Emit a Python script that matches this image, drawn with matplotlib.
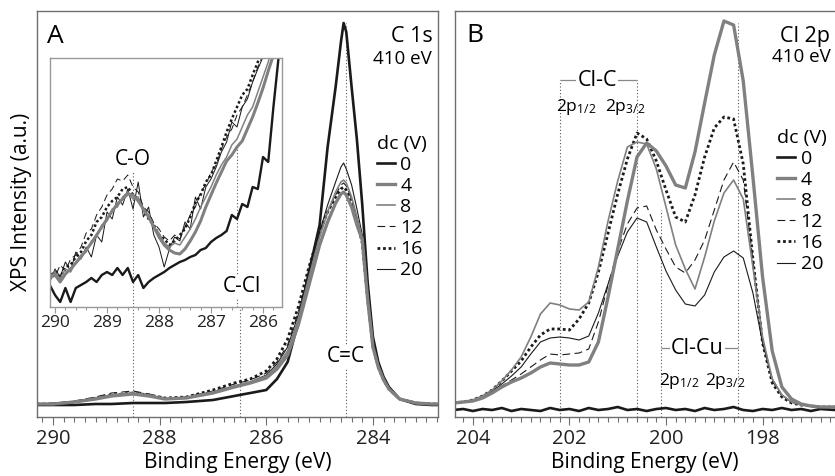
import matplotlib
matplotlib.use("Agg")
import matplotlib.pyplot as plt
from matplotlib.ticker import MultipleLocator

plt.rcParams['font.family'] = ['Open Sans', 'DejaVu Sans']
plt.rcParams['mathtext.fontset'] = 'custom'
plt.rcParams['mathtext.rm'] = 'Open Sans'
plt.rcParams['mathtext.it'] = 'Open Sans:italic'

# ---------------- data ----------------
voltages = ['0', '4', '8', '12', '16', '20']

# Panel A : C 1s main spectra (binding energy, intensity a.u.)
EA = [290.3, 290.0, 289.6, 289.2, 288.9, 288.5, 288.2, 287.9, 287.5, 287.0,
      286.6, 286.3, 286.0, 285.8, 285.6, 285.4, 285.2, 285.0, 284.85, 284.7,
      284.6, 284.55, 284.5, 284.4, 284.3, 284.2, 284.1, 284.0, 283.9, 283.8,
      283.7, 283.5, 283.2, 282.9, 282.7]
A_0 = [12, 12, 12, 13, 13, 14, 14, 14, 15, 17, 21, 24, 27, 38, 55, 95, 145, 192, 270, 330,
       375, 394, 385, 330, 277, 212, 135, 80, 55, 40, 30, 18, 13, 12, 12]
A_4 = [13, 13, 15, 18, 21, 23, 21, 18, 19, 24, 30, 34, 39, 48, 62, 92, 132, 172, 195, 214,
       223, 225, 222, 210, 192, 177, 118, 70, 50, 37, 28, 18, 14, 13, 13]
A_8 = [13, 13, 15, 19, 22, 24, 22, 18, 19, 25, 31, 35, 41, 51, 66, 98, 140, 180, 205, 225,
       235, 237, 234, 220, 200, 178, 120, 70, 50, 37, 28, 18, 14, 13, 13]
A_12 = [13, 14, 16, 20, 24, 26, 23, 19, 20, 26, 33, 37, 44, 55, 72, 105, 146, 183, 205, 222,
        232, 234, 231, 218, 198, 176, 118, 70, 50, 37, 28, 18, 14, 13, 13]
A_16 = [13, 13, 15, 19, 22, 24, 22, 19, 20, 27, 34, 38, 46, 58, 78, 110, 150, 185, 205, 220,
        228, 230, 227, 215, 196, 174, 118, 70, 50, 37, 28, 18, 14, 13, 13]
A_20 = [13, 13, 15, 19, 22, 24, 21, 18, 19, 25, 31, 35, 42, 53, 70, 102, 145, 185, 212, 235,
        250, 254, 248, 232, 208, 182, 124, 72, 51, 37, 28, 18, 14, 13, 13]

# Panel A inset : magnified 290.1 - 285.6 eV
EI = [290.1, 290.0, 289.9, 289.8, 289.7, 289.6, 289.5, 289.4, 289.3, 289.2,
      289.1, 289.0, 288.9, 288.8, 288.7, 288.6, 288.5, 288.4, 288.3, 288.2,
      288.1, 288.0, 287.9, 287.8, 287.7, 287.6, 287.5, 287.4, 287.3, 287.2,
      287.1, 287.0, 286.9, 286.8, 286.7, 286.6, 286.5, 286.4, 286.3, 286.2,
      286.1, 286.0, 285.9, 285.8, 285.7, 285.6]
I_0 = [22, 12, 5, 19, 5, 19, 22, 25, 29, 25, 32, 35, 32, 39, 32, 39, 25, 32, 19, 25,
       29, 32, 35, 39, 42, 45, 47, 50, 52, 57, 59, 65, 69, 72, 76, 92, 88, 103, 100, 120,
       118, 150, 145, 200, 250, 290]
I_4 = [29, 32, 25, 33, 38, 44, 50, 57, 64, 72, 80, 88, 96, 103, 108, 113, 112, 106, 98, 90,
       80, 70, 62, 57, 54, 53, 58, 66, 75, 86, 100, 112, 124, 135, 146, 152, 160, 166, 178, 190,
       204, 219, 236, 252, 270, 290]
I_8 = [30, 35, 28, 38, 35, 45, 52, 55, 66, 70, 82, 86, 98, 100, 110, 115, 108, 110, 96, 92,
       80, 74, 64, 60, 64, 62, 70, 78, 88, 100, 110, 120, 132, 142, 150, 162, 168, 180, 192, 200,
       215, 230, 245, 262, 280, 300]
I_12 = [35, 30, 42, 36, 48, 52, 60, 74, 78, 92, 100, 112, 118, 128, 126, 132, 120, 115, 100, 95,
        84, 78, 70, 66, 72, 68, 80, 92, 100, 115, 122, 135, 142, 158, 170, 178, 192, 200, 212, 225,
        240, 252, 268, 285, 300, 310]
I_16 = [28, 36, 30, 40, 42, 50, 55, 66, 72, 85, 90, 100, 106, 110, 118, 120, 112, 108, 98, 88,
        82, 72, 68, 62, 66, 72, 78, 90, 104, 112, 125, 132, 146, 160, 175, 188, 200, 212, 218, 232,
        245, 255, 268, 285, 300, 310]
I_20 = [25, 38, 30, 45, 36, 55, 48, 60, 50, 72, 65, 95, 88, 110, 102, 118, 98, 125, 90, 100,
        72, 60, 40, 58, 70, 66, 85, 78, 110, 98, 120, 128, 140, 155, 165, 185, 180, 200, 208, 225,
        238, 250, 262, 280, 295, 310]

# Panel B : Cl 2p spectra
EB = [204.4, 204.2, 204.0, 203.8, 203.6, 203.4, 203.2, 203.0, 202.8, 202.6,
      202.4, 202.2, 202.0, 201.8, 201.6, 201.4, 201.2, 201.0, 200.8, 200.6,
      200.4, 200.2, 200.0, 199.8, 199.6, 199.4, 199.2, 199.0, 198.8, 198.6,
      198.4, 198.2, 198.0, 197.8, 197.6, 197.4, 197.2, 197.0, 196.8, 196.5]
B_0 = [7, 8, 6, 8, 7, 9, 6, 8, 7, 6, 9, 7, 8, 6, 9, 7, 8, 10, 7, 8,
       6, 8, 9, 7, 8, 6, 9, 7, 8, 10, 7, 6, 8, 7, 9, 7, 8, 6, 8, 7]
B_4 = [14, 15, 16, 19, 24, 30, 35, 39, 44, 50, 54, 53, 52, 52, 55, 75, 120, 168, 216, 260,
       274, 266, 251, 232, 229, 265, 314, 362, 396, 392, 336, 240, 140, 66, 30, 18, 13, 11, 10, 10]
B_8 = [14, 15, 17, 21, 27, 36, 47, 60, 80, 103, 114, 112, 108, 107, 115, 150, 196, 236, 270, 275,
       273, 248, 210, 172, 148, 128, 160, 196, 224, 237, 218, 150, 80, 38, 22, 15, 12, 11, 10, 10]
B_12 = [14, 15, 17, 20, 25, 31, 37, 43, 50, 57, 63, 62, 63, 64, 68, 95, 132, 166, 193, 209,
        211, 187, 168, 150, 144, 157, 177, 207, 237, 255, 237, 157, 78, 36, 21, 15, 12, 11, 10, 10]
B_16 = [14, 15, 17, 21, 27, 36, 46, 56, 70, 82, 88, 88, 87, 98, 114, 145, 184, 223, 258, 284,
        278, 256, 227, 200, 195, 222, 260, 289, 300, 298, 253, 158, 74, 34, 20, 14, 12, 11, 10, 10]
B_20 = [14, 15, 17, 21, 26, 33, 41, 50, 63, 75, 79, 80, 79, 77, 81, 104, 133, 161, 185, 199,
        195, 170, 146, 127, 113, 111, 122, 145, 160, 166, 159, 124, 74, 38, 22, 15, 12, 11, 10, 10]

# reference peak positions
A_lines = {'C=C': 284.5, 'C-O': 288.5, 'C-Cl': 286.5}
B_ClC = [202.2, 200.6]
B_ClCu = [200.1, 198.5]

# ---------------- styles ----------------
styles = {
    '0': dict(color='#1a1a1a', lw=1.9, ls='-'),
    '4': dict(color='#808080', lw=2.4, ls='-'),
    '8': dict(color='#808080', lw=1.2, ls='-'),
    '12': dict(color='#1a1a1a', lw=0.8, ls=(0, (7, 4))),
    '16': dict(color='#1a1a1a', lw=2.0, ls=(0, (1, 1))),
    '20': dict(color='#1a1a1a', lw=0.8, ls='-'),
}
draw_order = ['0', '20', '12', '16', '8', '4']
SPINE = '#6e6e6e'
DOT = dict(color='#555555', lw=0.8, ls=(0, (1, 2)))

fig = plt.figure(figsize=(8.35, 4.76), dpi=100)
axA = fig.add_axes([37 / 835, 59 / 476, 401 / 835, 406 / 476])
axB = fig.add_axes([455 / 835, 59 / 476, 380 / 835, 406 / 476])
axI = fig.add_axes([50 / 835, 169 / 476, 232 / 835, 249 / 476], zorder=5)
axI.set_facecolor('white')


def style_axes(ax, major, minor, lsize, mlen, nlen, color, pad):
    for s in ax.spines.values():
        s.set_color(color)
        s.set_linewidth(1.0)
    ax.set_yticks([])
    ax.xaxis.set_major_locator(MultipleLocator(major))
    ax.xaxis.set_minor_locator(MultipleLocator(minor))
    ax.tick_params(axis='x', which='major', direction='out', length=mlen, width=0.8,
                   color=color, labelsize=lsize, labelcolor='#222222', pad=pad)
    ax.tick_params(axis='x', which='minor', direction='out', length=nlen, width=0.8, color=color)


style_axes(axA, 2, 0.2, 14.5, 6, 3.5, SPINE, 3)
style_axes(axB, 2, 0.2, 14.5, 6, 3.5, SPINE, 3)
style_axes(axI, 1, 0.2, 12.5, 4, 2.5, '#999999', 2)
axB.spines['right'].set_visible(False)

dataA = {'0': A_0, '4': A_4, '8': A_8, '12': A_12, '16': A_16, '20': A_20}
dataI = {'0': I_0, '4': I_4, '8': I_8, '12': I_12, '16': I_16, '20': I_20}
dataB = {'0': B_0, '4': B_4, '8': B_8, '12': B_12, '16': B_16, '20': B_20}

handlesA, handlesB = {}, {}
for v in draw_order:
    st = styles[v]
    l, = axA.plot(EA, dataA[v], color=st['color'], lw=st['lw'], linestyle=st['ls'], label=v)
    handlesA[v] = l
    axI.plot(EI, dataI[v], color=st['color'], lw=st['lw'] * 0.9, linestyle=st['ls'])
    l2, = axB.plot(EB, dataB[v], color=st['color'], lw=st['lw'], linestyle=st['ls'], label=v)
    handlesB[v] = l2

axA.set_xlim(290.3, 282.78)
axA.set_ylim(0, 406)
axI.set_xlim(290.096, 285.635)
axI.set_ylim(0, 249)
axB.set_xlim(204.37, 196.5)
axB.set_ylim(0, 406)

# reference lines panel A
axA.vlines(A_lines['C=C'], 0, 394, zorder=0, **DOT)
axA.vlines([A_lines['C-O'], A_lines['C-Cl']], 0, 150, zorder=0, **DOT)
axI.vlines(A_lines['C-O'], 0, 135, zorder=0, **DOT)
axI.vlines(A_lines['C-Cl'], 0, 160, zorder=0, **DOT)

# reference lines panel B
axB.vlines(B_ClC, 0, 337, zorder=0, **DOT)
axB.vlines(B_ClCu[0], 0, 207, zorder=0, **DOT)
axB.vlines(B_ClCu[1], 0, 394, zorder=0, **DOT)
axB.hlines(337, B_ClC[0], B_ClC[1], color='#888888', lw=0.9, zorder=1)
axB.hlines(69, B_ClCu[0], B_ClCu[1], color='#888888', lw=0.9, zorder=1)

wb = dict(facecolor='white', edgecolor='none', pad=1.0)
axB.text(201.42, 337, 'Cl-C', ha='center', va='center', fontsize=15.5, bbox=wb, zorder=3)
axB.text(199.35, 69, 'Cl-Cu', ha='center', va='center', fontsize=15.5, bbox=wb, zorder=3)
axB.text(201.87, 310, r'2p$_{\mathrm{1/2}}$', ha='center', va='center', fontsize=12.5)
axB.text(200.85, 310, r'2p$_{\mathrm{3/2}}$', ha='center', va='center', fontsize=12.5)
axB.text(199.72, 36, r'2p$_{\mathrm{1/2}}$', ha='center', va='center', fontsize=12.5)
axB.text(198.78, 36, r'2p$_{\mathrm{3/2}}$', ha='center', va='center', fontsize=12.5)

axA.text(A_lines['C=C'], 55, 'C=C', ha='center', va='baseline', fontsize=15, bbox=wb, zorder=3)
axI.text(A_lines['C-O'], 142, 'C-O', ha='center', va='baseline', fontsize=15)
axI.text(286.4, 15, 'C-Cl', ha='center', va='baseline', fontsize=15, bbox=wb, zorder=3)

# panel titles
axA.text(0.025, 0.921, 'A', transform=axA.transAxes, fontsize=19, va='baseline', ha='left')
axB.text(0.03, 0.924, 'B', transform=axB.transAxes, fontsize=19, va='baseline', ha='left')
axA.text(0.988, 0.9236, 'C 1s', transform=axA.transAxes, fontsize=15.5, va='baseline', ha='right')
axA.text(0.985, 0.870, '410 eV', transform=axA.transAxes, fontsize=13.5, va='baseline', ha='right')
axB.text(0.988, 0.9236, 'Cl 2p', transform=axB.transAxes, fontsize=15.5, va='baseline', ha='right')
axB.text(0.988, 0.875, '410 eV', transform=axB.transAxes, fontsize=13.5, va='baseline', ha='right')

# legends
for ax, hd, x0, y0 in [(axA, handlesA, 0.848, 0.695), (axB, handlesB, 0.848, 0.71)]:
    ax.legend([hd[v] for v in voltages], voltages, title='dc (V)', loc='upper left',
              bbox_to_anchor=(x0, y0), frameon=False, fontsize=14, title_fontsize=14,
              handlelength=0.9, handletextpad=0.3, labelspacing=0.16, borderpad=0,
              borderaxespad=0, alignment='left')

axA.set_xlabel('Binding Energy (eV)', fontsize=15)
axB.set_xlabel('Binding Energy (eV)', fontsize=15)
axA.xaxis.set_label_coords(0.5, -0.085)
axB.xaxis.set_label_coords(0.5, -0.085)
axA.set_ylabel('XPS Intensity (a.u.)', fontsize=15)
axA.yaxis.set_label_coords(-0.012, 0.53)

fig.savefig('out.png', dpi=100)
